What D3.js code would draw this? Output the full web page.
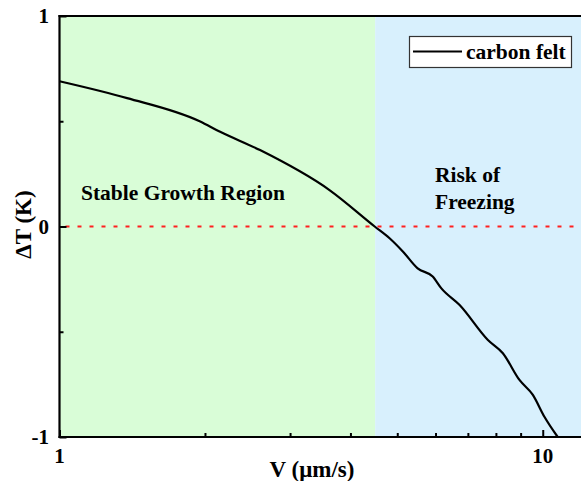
<!DOCTYPE html>
<html>
<head>
<meta charset="utf-8">
<script src="https://cdn.jsdelivr.net/npm/d3@7"></script>
<style>
  body { margin: 0; background: #fff; }
  text { font-family: "Liberation Serif", "Times New Roman", serif; font-weight: bold; }
</style>
</head>
<body>
<svg id="chart"></svg>
<script>
const width = 581, height = 481
const margin = {left: 59.5, right: 0, top: 16, bottom: 44}

// carbon felt curve
const speeds = [1, 1.38, 1.95, 2.15, 2.6, 3.62, 4.49, 4.82, 5.14, 5.51, 5.92, 6.17, 6.73, 7.7, 8.27, 8.95, 9.54, 10.08, 10.74]
const deltaT = [0.69, 0.61, 0.5, 0.45, 0.363, 0.173, 0.0, -0.056, -0.12, -0.199, -0.238, -0.294, -0.373, -0.539, -0.602, -0.729, -0.8, -0.904, -1.0]

const xDomain = [1, 12]
const yDomain = [-1, 1]
const boundary = 4.5
const xMajor = [1, 10]
const xMinor = [2, 3, 4, 5, 6, 7, 8, 9]
const yMajor = [-1, 0, 1]
const yMinor = [-0.5, 0.5]

const svg = d3.select("svg#chart")
    .attr("width", width)
    .attr("height", height)
    .attr("viewBox", [0, 0, width, height])

const x = d3.scaleLog().domain(xDomain).range([margin.left, width - margin.right])
const y = d3.scaleLinear().domain(yDomain).range([height - margin.bottom, margin.top])

// regions
svg.append("rect")
    .attr("x", x(1)).attr("y", y(1))
    .attr("width", x(boundary) - x(1)).attr("height", y(-1) - y(1))
    .attr("fill", "#d9fdd7")
svg.append("rect")
    .attr("x", x(boundary)).attr("y", y(1))
    .attr("width", x(12) - x(boundary)).attr("height", y(-1) - y(1))
    .attr("fill", "#d8f0fd")

// zero line
svg.append("line")
    .attr("x1", x(1)).attr("x2", x(12))
    .attr("y1", y(0)).attr("y2", y(0))
    .attr("stroke", "#ff2020")
    .attr("stroke-width", 2)
    .attr("stroke-dasharray", "4,8")
    .attr("stroke-dashoffset", -6)

// curve
const line = d3.line()
    .x((d, i) => x(speeds[i]))
    .y(d => y(d))
    .curve(d3.curveMonotoneX)
svg.append("path")
    .datum(deltaT)
    .attr("d", line)
    .attr("fill", "none")
    .attr("stroke", "#000")
    .attr("stroke-width", 2.2)

// axes with inward ticks
const xAxisMajor = d3.axisTop(x).tickValues(xMajor).tickSize(7).tickFormat("")
const xAxisMinor = d3.axisTop(x).tickValues(xMinor).tickSize(4).tickFormat("")
const yAxisMajor = d3.axisRight(y).tickValues(yMajor).tickSize(7).tickFormat("")
const yAxisMinor = d3.axisRight(y).tickValues(yMinor).tickSize(4).tickFormat("")

const gx = svg.append("g").attr("transform", `translate(0,${y(-1)})`)
gx.call(xAxisMajor)
gx.append("g").call(xAxisMinor)
const gy = svg.append("g").attr("transform", `translate(${x(1)},0)`)
gy.call(yAxisMajor)
gy.append("g").call(yAxisMinor)
svg.selectAll(".domain").remove()
svg.selectAll(".tick line").attr("stroke", "#000").attr("stroke-width", 2)

// frame lines
svg.append("line").attr("x1", x(1)).attr("x2", x(1)).attr("y1", y(1) - 1).attr("y2", y(-1) + 1)
    .attr("stroke", "#000").attr("stroke-width", 2.2)
svg.append("line").attr("x1", x(1) - 1).attr("x2", width).attr("y1", y(-1)).attr("y2", y(-1))
    .attr("stroke", "#000").attr("stroke-width", 2.2)
svg.append("line").attr("x1", x(1) - 1).attr("x2", width).attr("y1", y(1)).attr("y2", y(1))
    .attr("stroke", "#000").attr("stroke-width", 2)

// tick labels
svg.selectAll("text.xlab").data(xMajor).enter().append("text").attr("class", "xlab")
    .attr("x", d => x(d)).attr("y", y(-1) + 26)
    .attr("text-anchor", "middle").attr("font-size", 21)
    .text(d => d)
svg.selectAll("text.ylab").data(yMajor).enter().append("text").attr("class", "ylab")
    .attr("x", x(1) - 10.5).attr("y", d => y(d) + 7)
    .attr("text-anchor", "end").attr("font-size", 21)
    .text(d => d)

// axis titles
svg.append("text")
    .attr("x", 312).attr("y", 477)
    .attr("text-anchor", "middle").attr("font-size", 23)
    .text("V (μm/s)")
svg.append("text")
    .attr("transform", `translate(31,${y(0) - 2}) rotate(-90)`)
    .attr("text-anchor", "middle").attr("font-size", 23)
    .text("ΔT (K)")

// region labels
svg.append("text")
    .attr("x", 81).attr("y", 200)
    .attr("font-size", 21.5)
    .text("Stable Growth Region")
svg.append("text")
    .attr("x", 435).attr("y", 182)
    .attr("font-size", 21.5)
    .text("Risk of")
svg.append("text")
    .attr("x", 435).attr("y", 209)
    .attr("font-size", 21.5)
    .text("Freezing")

// legend
const legend = svg.append("g")
legend.append("rect")
    .attr("x", 409.5).attr("y", 36.5).attr("width", 162).attr("height", 31)
    .attr("fill", "#fff").attr("stroke", "#333").attr("stroke-width", 1.2)
legend.append("line")
    .attr("x1", 413).attr("x2", 462).attr("y1", 51.5).attr("y2", 51.5)
    .attr("stroke", "#000").attr("stroke-width", 2)
legend.append("text")
    .attr("x", 466).attr("y", 59)
    .attr("font-size", 21.5)
    .text("carbon felt")
</script>
</body>
</html>
